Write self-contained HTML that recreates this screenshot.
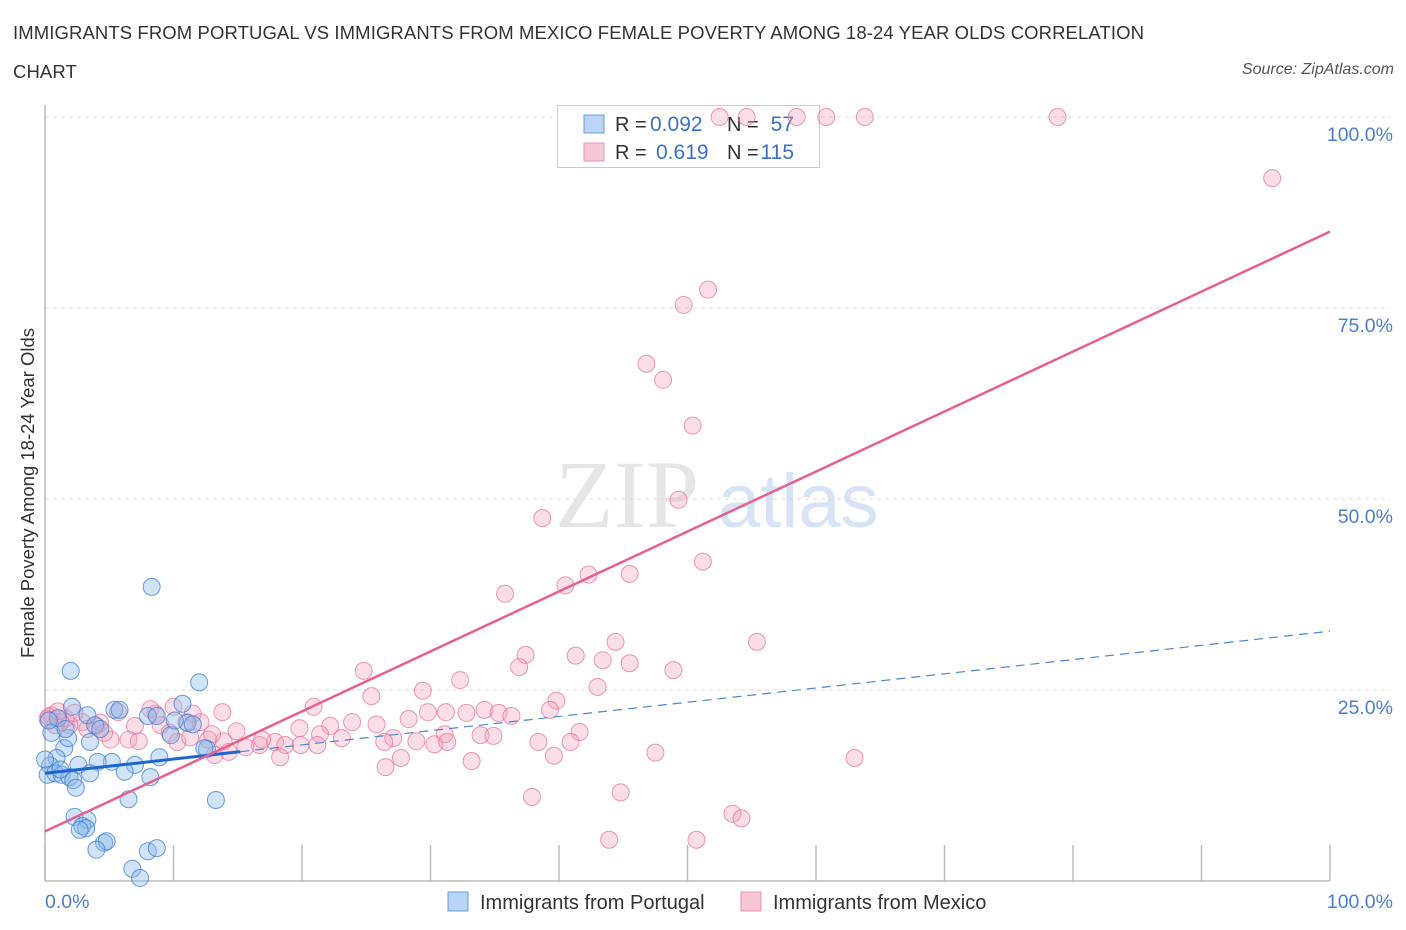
<!DOCTYPE html>
<html><head><meta charset="utf-8">
<style>
body{margin:0;background:#fff;font-family:"Liberation Sans",sans-serif;}
#wrap{position:relative;width:1406px;height:930px;overflow:hidden;}
.title{position:absolute;left:13px;font-size:18.5px;color:#333;letter-spacing:0.1px}
</style></head><body>
<div id="wrap">
<div class="title" style="top:22px">IMMIGRANTS FROM PORTUGAL VS IMMIGRANTS FROM MEXICO FEMALE POVERTY AMONG 18-24 YEAR OLDS CORRELATION</div>
<div class="title" style="top:61px">CHART</div>
<div style="position:absolute;right:12px;top:61px;font-size:16px;font-style:italic;color:#555">Source: ZipAtlas.com</div>
<svg id="chart" width="1406" height="930" style="position:absolute;left:0;top:0"></svg>
</div>
<script>
const xTicks=[0,10,20,30,40,50,60,70,80,90,100];
const yTicks=[25,50,75,100];
const yTickLabels=["25.0%","50.0%","75.0%","100.0%"];
const blueX=[8.3,2.0,12.0,10.7,2.1,1.0,3.3,8.0,8.7,5.4,3.9,11.1,9.8,3.5,0.5,1.5,1.8,0.9,0.4,5.2,2.6,7.0,4.1,8.9,0.2,0.8,1.3,1.9,2.2,3.5,6.2,8.2,12.6,2.4,6.5,13.3,2.3,3.3,2.9,3.2,2.7,4.6,4.8,4.0,8.0,8.7,6.8,7.4,12.4,11.5,10.1,0.0,1.2,1.6,4.3,5.8,0.3];
const blueY=[38.5,27.5,26.0,23.2,22.8,21.3,21.7,21.6,21.6,22.4,20.4,20.7,19.1,18.2,19.4,17.4,18.7,16.1,15.1,15.6,15.2,15.2,15.6,16.2,13.9,14.1,13.9,13.6,13.2,14.1,14.3,13.6,17.3,12.2,10.7,10.6,8.4,8.0,7.2,6.9,6.7,5.0,5.2,4.1,3.9,4.3,1.6,0.4,17.4,20.5,21.0,15.9,14.6,19.9,19.9,22.4,21.0];
const pinkX=[52.5,54.6,58.5,60.8,63.8,78.8,95.5,51.6,49.7,46.8,48.1,50.4,49.3,38.7,51.2,40.5,42.3,45.5,35.8,44.4,55.4,37.4,41.3,43.4,45.5,48.9,36.9,43.0,39.8,32.3,24.8,25.4,29.4,39.3,20.9,34.2,35.3,36.3,22.2,23.9,25.8,28.3,29.8,31.2,32.8,31.1,33.9,34.9,41.6,40.9,38.4,28.9,30.3,31.3,27.1,26.4,27.7,26.5,33.2,39.6,47.5,63.0,37.9,44.8,53.5,54.2,43.9,50.7,19.8,21.4,23.1,17.9,18.7,19.9,16.7,15.6,14.3,13.2,13.9,14.9,16.9,18.3,12.7,12.1,11.5,13.8,8.6,8.2,10.0,11.0,9.0,7.0,6.5,5.1,5.7,4.3,4.0,2.9,1.9,1.2,0.5,0.2,0.8,1.6,2.3,3.3,4.6,7.3,9.7,10.3,11.3,13.0,21.2,0.3,1.0];
const pinkY=[100,100,100,100,100,100,92.0,77.4,75.4,67.7,65.6,59.6,49.9,47.5,41.8,38.7,40.1,40.2,37.6,31.3,31.3,29.6,29.5,28.9,28.5,27.6,28.0,25.4,23.6,26.3,27.5,24.2,24.9,22.4,22.8,22.4,22.0,21.6,20.3,20.8,20.5,21.2,22.1,22.1,22.0,19.2,19.1,19.0,19.5,18.2,18.2,18.3,17.9,18.2,18.7,18.2,16.1,14.9,15.7,16.4,16.8,16.1,11.0,11.6,8.8,8.2,5.4,5.4,20.0,19.2,18.7,18.2,17.8,17.8,17.8,17.5,16.9,16.5,18.3,19.6,18.5,16.2,18.5,20.8,21.9,22.1,21.9,22.5,22.8,20.8,20.4,20.3,18.5,18.5,22.1,20.7,20.2,20.8,20.4,20.8,21.7,21.2,20.4,21.3,22.0,19.9,19.4,18.3,19.4,18.2,18.8,19.2,17.8,21.5,22.2];
const pinkTrend=[6.5,85.0];
const blueTrend=[14.1,32.7];
const blueSolidEnd=15.2;

const X0=45,X1=1330,Y0=881,Y100=117;
const sx=v=>X0+(X1-X0)*v/100;
const sy=v=>Y0-(Y0-Y100)*v/100;
const svg=document.getElementById('chart');
const NS='http://www.w3.org/2000/svg';
function mk(t,a){const e=document.createElementNS(NS,t);for(const k in a)e.setAttribute(k,a[k]);svg.appendChild(e);return e;}

let wm=mk('text',{x:555,y:527,'font-size':96,'font-family':'Liberation Serif, serif',fill:'#e6e6e6'});wm.textContent='ZIP';


let wm2=mk('text',{x:718,y:527,'font-size':76,'font-family':'Liberation Sans, sans-serif',fill:'#d6e4f5'});wm2.textContent='atlas';



yTicks.forEach((t,i)=>{
  const g=mk('line',{x1:X0,x2:X1+60,y1:sy(t),y2:sy(t),stroke:'#ddd','stroke-dasharray':'4,4'});
  
  
  const l=mk('text',{x:1393,y:sy(t)+24,'text-anchor':'end','font-size':19.5,fill:'#4a7fd0'});
  l.textContent=yTickLabels[i];
  
  
});
let ax=mk('line',{x1:X0,x2:X1,y1:Y0,y2:Y0,stroke:'#bbb','stroke-width':1.5});


let ay=mk('line',{x1:X0,x2:X0,y1:105,y2:Y0,stroke:'#bbb','stroke-width':1.5});


xTicks.forEach(t=>{
  const l=mk('line',{x1:sx(t),x2:sx(t),y1:Y0,y2:Y0-36,stroke:'#bbb','stroke-width':1.5});
  
  
});
let xl0=mk('text',{x:45,y:908,'font-size':19.5,fill:'#4a7fd0'});xl0.textContent='0.0%';


let xl1=mk('text',{x:1393,y:908,'font-size':19.5,fill:'#4a7fd0','text-anchor':'end'});xl1.textContent='100.0%';


let yt=mk('text',{x:34,y:493,'font-size':18.5,fill:'#333','text-anchor':'middle',transform:'rotate(-90 34 493)'});
yt.textContent='Female Poverty Among 18-24 Year Olds';



let lb=mk('rect',{x:557.5,y:105.5,width:262,height:62,fill:'#fff',stroke:'#ccc'});


function stat(y,fill,stroke,r,n,nm,rx){
  const s=mk('rect',{x:584,y:y-9,width:20,height:18,fill:fill,stroke:stroke});
  
  
  const a=mk('text',{x:615,y:y+7,'font-size':20,fill:'#333'});a.textContent='R =';
  
  
  const b=mk('text',{x:rx,y:y+7,'font-size':21,fill:'#3a70c8'});b.textContent=r;
  
  
  const c=mk('text',{x:727,y:y+7,'font-size':20,fill:'#333'});c.textContent='N =';
  
  
  const d=mk('text',{x:794,y:y+7,'font-size':21,fill:'#3a70c8','text-anchor':'end'});d.textContent=n;
  
  
}
stat(124,'#b9d4f5','#6a9de0','0.092','57','portugal',650);
stat(152,'#f8c7d6','#ec93b0','0.619','115','mexico',656);

pinkX.forEach((x,i)=>{
  const c=mk('circle',{cx:sx(x),cy:sy(pinkY[i]),r:8.5,fill:'rgba(244,160,185,0.35)',stroke:'rgba(230,110,150,0.7)','stroke-width':1});
  
  
});
blueX.forEach((x,i)=>{
  const c=mk('circle',{cx:sx(x),cy:sy(blueY[i]),r:8.5,fill:'rgba(140,185,235,0.4)',stroke:'rgba(60,125,210,0.75)','stroke-width':1});
  
  
});
const bAt=x=>blueTrend[0]+(blueTrend[1]-blueTrend[0])*x/100;
let bd=mk('line',{x1:sx(blueSolidEnd),y1:sy(bAt(blueSolidEnd)),x2:sx(100),y2:sy(bAt(100)),stroke:'#4a86d0','stroke-width':1.2,'stroke-dasharray':'9,6'});


let bs=mk('line',{x1:sx(0),y1:sy(bAt(0)),x2:sx(blueSolidEnd),y2:sy(bAt(blueSolidEnd)),stroke:'#1f66cc','stroke-width':3});


let pt=mk('line',{x1:sx(0),y1:sy(pinkTrend[0]),x2:sx(100),y2:sy(pinkTrend[1]),stroke:'#e8608e','stroke-width':2.5});



function leg(x,fill,stroke,label,nm){
  const s=mk('rect',{x:x,y:892,width:20,height:19,fill:fill,stroke:stroke});
  
  
  const t=mk('text',{x:x+32,y:909,'font-size':20,fill:'#333'});t.textContent=label;
  
  
}
leg(448,'#b9d4f5','#6a9de0','Immigrants from Portugal','portugal');
leg(741,'#f8c7d6','#ec93b0','Immigrants from Mexico','mexico');
</script>
</body></html>
